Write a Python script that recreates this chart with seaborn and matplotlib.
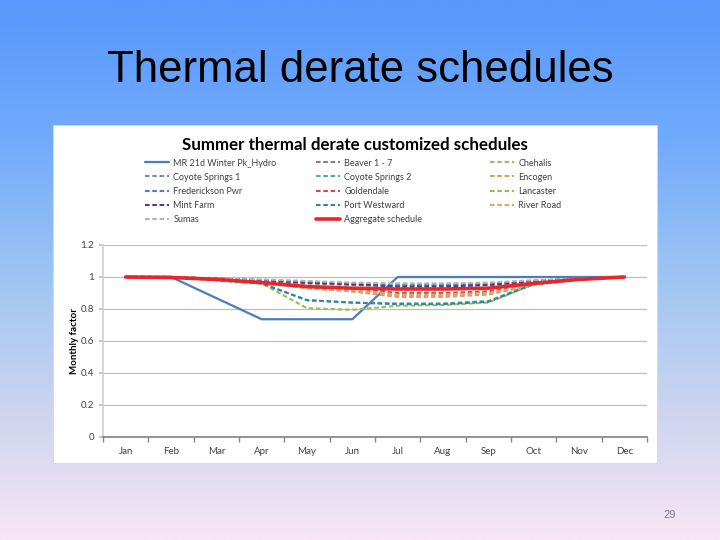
import numpy as np
import pandas as pd
import matplotlib
matplotlib.use("Agg")
import matplotlib.pyplot as plt
from matplotlib.colors import LinearSegmentedColormap
from matplotlib.patches import Rectangle
import seaborn as sns

# --- data ---
months = ["Jan", "Feb", "Mar", "Apr", "May", "Jun", "Jul", "Aug", "Sep", "Oct", "Nov", "Dec"]

mr21d = [1, 1, 0.868, 0.736, 0.736, 0.736, 1, 1, 1, 1, 1, 1]
beaver = [1, 1, 0.99, 0.975, 0.96, 0.95, 0.945, 0.945, 0.95, 0.97, 0.99, 1]
chehalis = [1, 1, 0.985, 0.965, 0.93, 0.91, 0.885, 0.885, 0.9, 0.955, 0.985, 1]
coyote1 = [1, 1, 0.99, 0.98, 0.97, 0.96, 0.955, 0.955, 0.96, 0.975, 0.99, 1]
coyote2 = [1, 1, 0.98, 0.96, 0.855, 0.84, 0.835, 0.835, 0.85, 0.96, 0.99, 1]
encogen = [1, 1, 0.985, 0.965, 0.93, 0.91, 0.875, 0.875, 0.89, 0.95, 0.985, 1]
frederickson = [1, 1, 0.99, 0.98, 0.965, 0.955, 0.95, 0.95, 0.955, 0.975, 0.99, 1]
goldendale = [1, 1, 0.99, 0.97, 0.945, 0.93, 0.9, 0.9, 0.91, 0.96, 0.99, 1]
lancaster = [1, 1, 0.98, 0.96, 0.805, 0.795, 0.82, 0.825, 0.84, 0.955, 0.99, 1]
mint_farm = [1, 1, 0.99, 0.98, 0.965, 0.955, 0.94, 0.94, 0.95, 0.975, 0.99, 1]
port_westward = [1, 1, 0.98, 0.96, 0.855, 0.84, 0.83, 0.83, 0.845, 0.955, 0.99, 1]
river_road = [1, 1, 0.985, 0.965, 0.935, 0.92, 0.89, 0.89, 0.9, 0.955, 0.985, 1]
sumas = [1, 1, 0.99, 0.985, 0.975, 0.965, 0.96, 0.96, 0.965, 0.98, 0.99, 1]
aggregate = [1, 0.997, 0.985, 0.965, 0.94, 0.93, 0.925, 0.925, 0.93, 0.96, 0.985, 1]

series_names = ["MR 21d Winter Pk_Hydro", "Beaver 1 - 7", "Chehalis",
                "Coyote Springs 1", "Coyote Springs 2", "Encogen",
                "Frederickson Pwr", "Goldendale", "Lancaster",
                "Mint Farm", "Port Westward", "River Road",
                "Sumas", "Aggregate schedule"]
series_values = [mr21d, beaver, chehalis, coyote1, coyote2, encogen,
                 frederickson, goldendale, lancaster, mint_farm, port_westward,
                 river_road, sumas, aggregate]
series_colors = ["#4A7EBB", "#9A7478", "#C4A57A", "#7F8CA6", "#5AA6BE", "#D9A064",
                 "#4F81BD", "#C0504D", "#9BBB59", "#4D3B82", "#31859C", "#E6A26A",
                 "#B4B4B4", "#E8262A"]

sns.set_theme(style="white")
plt.rcParams["font.family"] = ["Lato", "DejaVu Sans"]

fig = plt.figure(figsize=(7.2, 5.4), dpi=100)

# slide background gradient
bg = fig.add_axes([0, 0, 1, 1], zorder=-10)
cmap = LinearSegmentedColormap.from_list("slide", [
    (0.0, (88/255, 152/255, 252/255)),
    (0.25, (112/255, 170/255, 252/255)),
    (0.55, (165/255, 200/255, 242/255)),
    (0.8, (212/255, 214/255, 240/255)),
    (1.0, (248/255, 230/255, 246/255))])
bg.imshow(np.linspace(0, 1, 256).reshape(-1, 1), aspect="auto", cmap=cmap,
          extent=[0, 1, 0, 1])
bg.set_axis_off()

# white chart panel
fig.patches.append(Rectangle((53/720, 1-463/540), 604/720, 338/540,
                             transform=fig.transFigure, facecolor="white",
                             edgecolor="#D9D9D9", lw=0.6, zorder=-5))

fig.text(0.5, 1-71/540, "Thermal derate schedules", ha="center", va="center",
         fontsize=31.5, family=["Liberation Sans", "DejaVu Sans"], color="black")
fig.text(670/720, 1-515/540, "29", ha="center", va="center", fontsize=8,
         family=["Liberation Sans", "DejaVu Sans"], color="#7F7F8F")

ax = fig.add_axes([103/720, 1-437/540, 544/720, 192/540])
ax.set_facecolor("white")

for name, vals, col in zip(series_names, series_values, series_colors):
    if name.startswith("MR"):
        sns.lineplot(x=months, y=vals, ax=ax, color=col, lw=1.6, label=name,
                     sort=False)
    elif name.startswith("Aggregate"):
        sns.lineplot(x=months, y=vals, ax=ax, color=col, lw=2.6, label=name,
                     sort=False, zorder=5)
    else:
        sns.lineplot(x=months, y=vals, ax=ax, color=col, lw=1.5, label=name,
                     sort=False, dashes=(2.2, 1.3))

handles, labels = ax.get_legend_handles_labels()
ax.get_legend().remove()

# three legend columns filled row by row, like the reference
col_x = [145, 316, 490]
for c in range(3):
    idx = list(range(c, len(handles), 3))
    fig.legend([handles[i] for i in idx], [labels[i] for i in idx],
               loc="upper left", bbox_to_anchor=(col_x[c]/720, 1-158.5/540),
               frameon=False, fontsize=6.5, handlelength=2.7,
               handletextpad=0.45, labelspacing=0.57, borderpad=0,
               borderaxespad=0, labelcolor="#404040")

ax.set_ylim(0, 1.2)
ax.set_xlim(-0.5, 11.5)
ax.set_yticks(np.arange(0, 1.21, 0.2))
ax.set_yticklabels(["0", "0.2", "0.4", "0.6", "0.8", "1", "1.2"])
ax.set_xticks(range(12))
ax.set_xticks(np.arange(-0.5, 12, 1), minor=True)
ax.tick_params(axis="x", which="major", length=0, labelsize=7, colors="#404040", pad=7)
ax.tick_params(axis="x", which="minor", length=3.5, color="#868686", direction="out", bottom=True)
ax.tick_params(axis="y", which="major", length=3, labelsize=7, colors="#404040", left=True)
ax.tick_params(axis="y", which="major", color="#BEBEBE")
ax.grid(axis="y", color="#BEBEBE", lw=0.9)
ax.set_axisbelow(True)
for side in ["top", "right"]:
    ax.spines[side].set_visible(False)
ax.spines["left"].set_color("#D0D0D0")
ax.spines["bottom"].set_color("#868686")
ax.set_xlabel("")
ax.set_ylabel("Monthly factor", fontsize=7, fontweight="bold", color="black", labelpad=1)

fig.text(355/720, 1-145/540, "Summer thermal derate customized schedules",
         ha="center", va="center", fontsize=12.2, fontweight="bold", color="black")

fig.savefig("out.png", dpi=100)
